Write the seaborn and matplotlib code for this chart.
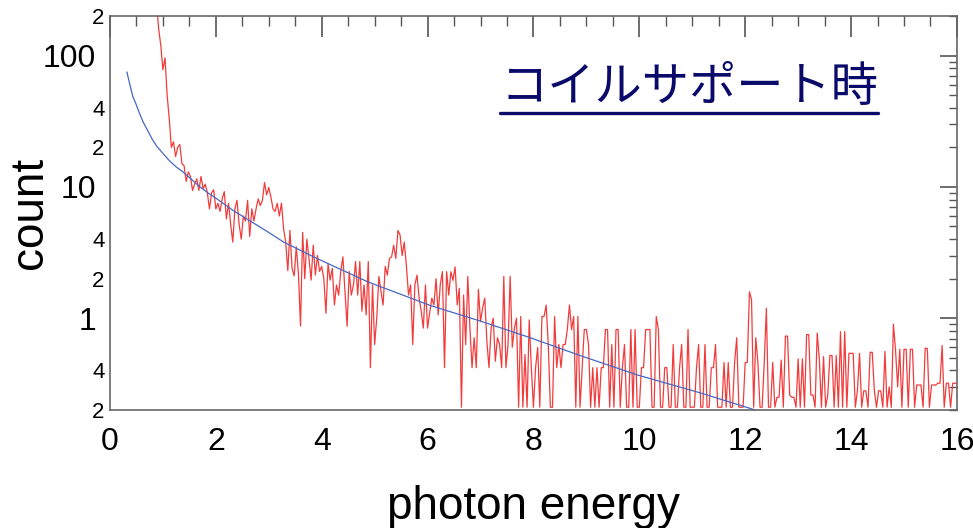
import numpy as np
import pandas as pd
import matplotlib
matplotlib.use("Agg")
import matplotlib.pyplot as plt
import matplotlib.ticker as mticker
from matplotlib.lines import Line2D
import seaborn as sns

bin_start = 0.88
bin_width = 0.04
counts_lead = [250, 160, 120]
counts_1 = [78, 96, 50, 33, 20, 22, 17, 20, 21, 15, 14.5, 11, 13, 12, 9.4,
            10.5, 11.5, 9.4, 12, 9.7, 10.5, 9, 6.8, 9, 9.5]
counts_2 = [6.8, 7.5, 6.5, 8.1, 9.2, 5.7, 7.5, 5.2, 3.8, 6.8, 7.9, 5.2, 4.0, 6.0, 5.5,
            7.9, 4.2, 6.8, 5.5, 6.8, 8.1, 7.2, 7.9, 10.8, 8.7]
counts_3 = [9.9, 8.4, 6.8, 6.5, 7.5, 6.0, 7.5, 4.8, 3.8, 2.3, 4.66, 2.4, 2.1, 3.5, 2.2,
            0.87, 4.5, 2.0, 4.0, 2.85, 1.95, 3.6, 2.13, 3.0, 2.27]
counts_4 = [2.48, 2.0, 1.09, 2.6, 1.95, 2.4, 1.26, 1.79, 1.5, 2.27, 2.93, 1.6, 0.87, 2.27, 1.5,
            1.79, 2.7, 1.5, 2.7, 1.13, 1.79, 1.06, 2.7, 0.42, 1.79]
counts_5 = [0.63, 1.0, 2.08, 1.6, 1.26, 2.48, 2.13, 2.85, 2.93, 3.6, 2.85, 4.66, 4.3, 3.0, 3.8,
            2.5, 1.5, 1.79, 0.63, 1.79, 2.13, 1.42, 1.13, 0.84, 1.79]
counts_6 = [0.84, 1.1, 1.42, 1.26, 2.0, 1.06, 1.8, 2.26, 0.42, 2.26, 1.5, 2.26, 1.94, 2.46, 1.26,
            1.69, 0.21, 1.5, 0.63, 2.08, 0.84, 0.42, 0.71, 0.42, 1.66]
counts_7 = [0.94, 1.2, 1.42, 0.67, 0.42, 0.84, 1.0, 0.47, 0.71, 0.63, 0.42, 2.08, 0.42, 0.63, 2.08,
            0.6, 0.84, 1.0, 0.21, 1.03, 0.21, 0.53, 0.21, 0.97, 0.42]
counts_8 = [0.21, 0.42, 0.6, 0.21, 1.03, 1.03, 1.26, 0.63, 0.21, 0.21, 1.03, 0.42, 0.63, 0.42, 0.63,
            0.63, 0.82, 1.26, 0.82, 1.03, 0.21, 1.03, 0.21, 0.42, 0.82]
counts_9 = [0.82, 0.63, 0.21, 0.42, 0.21, 0.42, 0.21, 0.42, 0.42, 0.82, 0.82, 0.21, 0.63, 0.21, 0.82,
            0.82, 0.21, 0.42, 0.63, 0.21, 0.21, 0.82, 0.21, 0.82, 0.21]
counts_10 = [0.21, 0.42, 0.42, 0.82, 0.82, 0.82, 0.21, 0.21, 1.03, 0.82, 0.21, 0.21, 0.42, 0.42, 0.21,
             0.21, 0.63, 0.21, 0.21, 0.42, 0.63, 0.21, 0.21, 0.82, 0.21]
counts_11 = [0.21, 0.21, 0.42, 0.63, 0.21, 0.21, 0.63, 0.21, 0.21, 0.42, 0.42, 0.63, 0.21, 0.21, 0.21,
             0.46, 0.21, 0.46, 0.21, 0.21, 0.46, 0.71, 0.21, 0.21, 0.21]
counts_12 = [0.46, 0.46, 1.59, 1.38, 0.21, 0.71, 0.46, 0.21, 0.21, 0.46, 1.19, 0.21, 0.21, 0.46, 0.21,
             0.25, 0.25, 0.48, 0.21, 0.73, 0.73, 0.26, 0.25, 0.25, 0.21]
counts_13 = [0.49, 0.21, 0.49, 0.21, 0.75, 0.75, 0.26, 0.26, 0.21, 0.77, 0.49, 0.21, 0.51, 0.21, 0.26,
             0.52, 0.52, 0.21, 0.52, 0.21, 0.79, 0.21, 0.79, 0.21, 0.54]
counts_14 = [0.54, 0.54, 0.21, 0.28, 0.54, 0.21, 0.28, 0.28, 0.21, 0.55, 0.55, 0.28, 0.21, 0.28, 0.28,
             0.21, 0.56, 0.21, 0.3, 0.21, 0.9, 0.57, 0.3, 0.58, 0.21]
counts_15 = [0.58, 0.58, 0.21, 0.58, 0.58, 0.21, 0.31, 0.31, 0.31, 0.21, 0.59, 0.59, 0.21, 0.31, 0.31,
             0.31, 0.32, 0.32, 0.62, 0.21, 0.32, 0.32, 0.21, 0.32, 0.32]
counts_tail = [0.32]

# fitted curve
fit_energy = [0.32, 0.36, 0.40, 0.43, 0.48, 0.55, 0.63, 0.72, 0.80, 0.88, 1.00, 1.13, 1.25,
              1.38, 1.55, 1.70, 1.85, 2.02, 2.33, 2.65, 2.96, 3.28, 3.91, 4.86, 6.05,
              7.0, 7.94, 8.88, 9.96, 11.15, 12.19]
fit_count = [75, 64, 55, 49, 44, 37, 31, 26.5, 23, 20.5, 18, 15.7, 14.2,
             13, 11.3, 10, 9.0, 8.1, 6.6, 5.5, 4.6, 3.8, 2.85, 1.9, 1.25,
             0.95, 0.71, 0.52, 0.37, 0.27, 0.2]

x_major = [0, 2, 4, 6, 8, 10, 12, 14, 16]
y_major = [1, 10, 100]
y_major_labels = ["1", "10", "100"]
title = "コイルサポート時"

red_counts = (counts_lead + counts_1 + counts_2 + counts_3 + counts_4 + counts_5 + counts_6
              + counts_7 + counts_8 + counts_9 + counts_10 + counts_11 + counts_12
              + counts_13 + counts_14 + counts_15 + counts_tail)
spec = pd.DataFrame({"energy": np.round(bin_start + bin_width * np.arange(len(red_counts)), 2),
                     "count": red_counts})
fit = pd.DataFrame({"energy": fit_energy, "count": fit_count})

sns.set_style("white")
plt.rcParams["font.family"] = ["Liberation Sans", "DejaVu Sans"]

fig = plt.figure(figsize=(9.73, 5.28), dpi=100)
ax = fig.add_axes([0.1130, 0.2235, 0.8705, 0.7462])

sns.lineplot(data=spec, x="energy", y="count", ax=ax, color="#f23c3c", lw=0.9, estimator=None)
sns.lineplot(data=fit, x="energy", y="count", ax=ax, color="#4668c4", lw=0.9, estimator=None)

ax.set_yscale("log")
ax.set_xlim(0, 16)
ax.set_ylim(0.2, 200)

ax.xaxis.set_major_locator(mticker.FixedLocator(x_major))
ax.xaxis.set_minor_locator(mticker.MultipleLocator(0.5))
ax.yaxis.set_major_locator(mticker.FixedLocator(y_major))
ax.yaxis.set_major_formatter(mticker.FixedFormatter(y_major_labels))
ax.yaxis.set_minor_locator(mticker.LogLocator(base=10, subs=np.arange(2, 10), numticks=20))


def minor_label(v, pos):
    m = int(round(v / 10 ** np.floor(np.log10(v) + 1e-9)))
    return str(m) if m in (2, 4) else ""


ax.yaxis.set_minor_formatter(mticker.FuncFormatter(minor_label))

for s in ax.spines.values():
    s.set_color("#666666")
    s.set_linewidth(1.2)

ax.tick_params(which="both", direction="in", top=True, right=True, color="#555555",
               labelcolor="black")
ax.tick_params(axis="x", which="major", length=15, width=1.2, labelsize=23, pad=12)
ax.tick_params(axis="x", which="minor", length=7, width=1.0)
ax.tick_params(axis="y", which="major", length=12, width=1.2, labelsize=23, pad=10)
ax.tick_params(axis="y", which="minor", length=6, width=1.0, labelsize=16, pad=4)

ax.set_xlabel("photon energy", fontsize=33, color="black")
ax.set_ylabel("count", fontsize=33, color="black")
ax.xaxis.set_label_coords(0.5, -0.19)
ax.yaxis.set_label_coords(-0.068, 0.5)

t = fig.text(0.514, 0.833, title, fontsize=34, color="#0a0a6b",
             family=["Noto Sans CJK JP", "DejaVu Sans"], ha="left", va="center")
fig.canvas.draw()
bb = t.get_window_extent()
W, H = fig.bbox.width, fig.bbox.height
fig.add_artist(Line2D([bb.x0 / W, bb.x1 / W], [(bb.y0 - 1) / H] * 2,
                      transform=fig.transFigure, color="#0a0a6b", lw=2.4))

fig.savefig("out.png", dpi=100)
